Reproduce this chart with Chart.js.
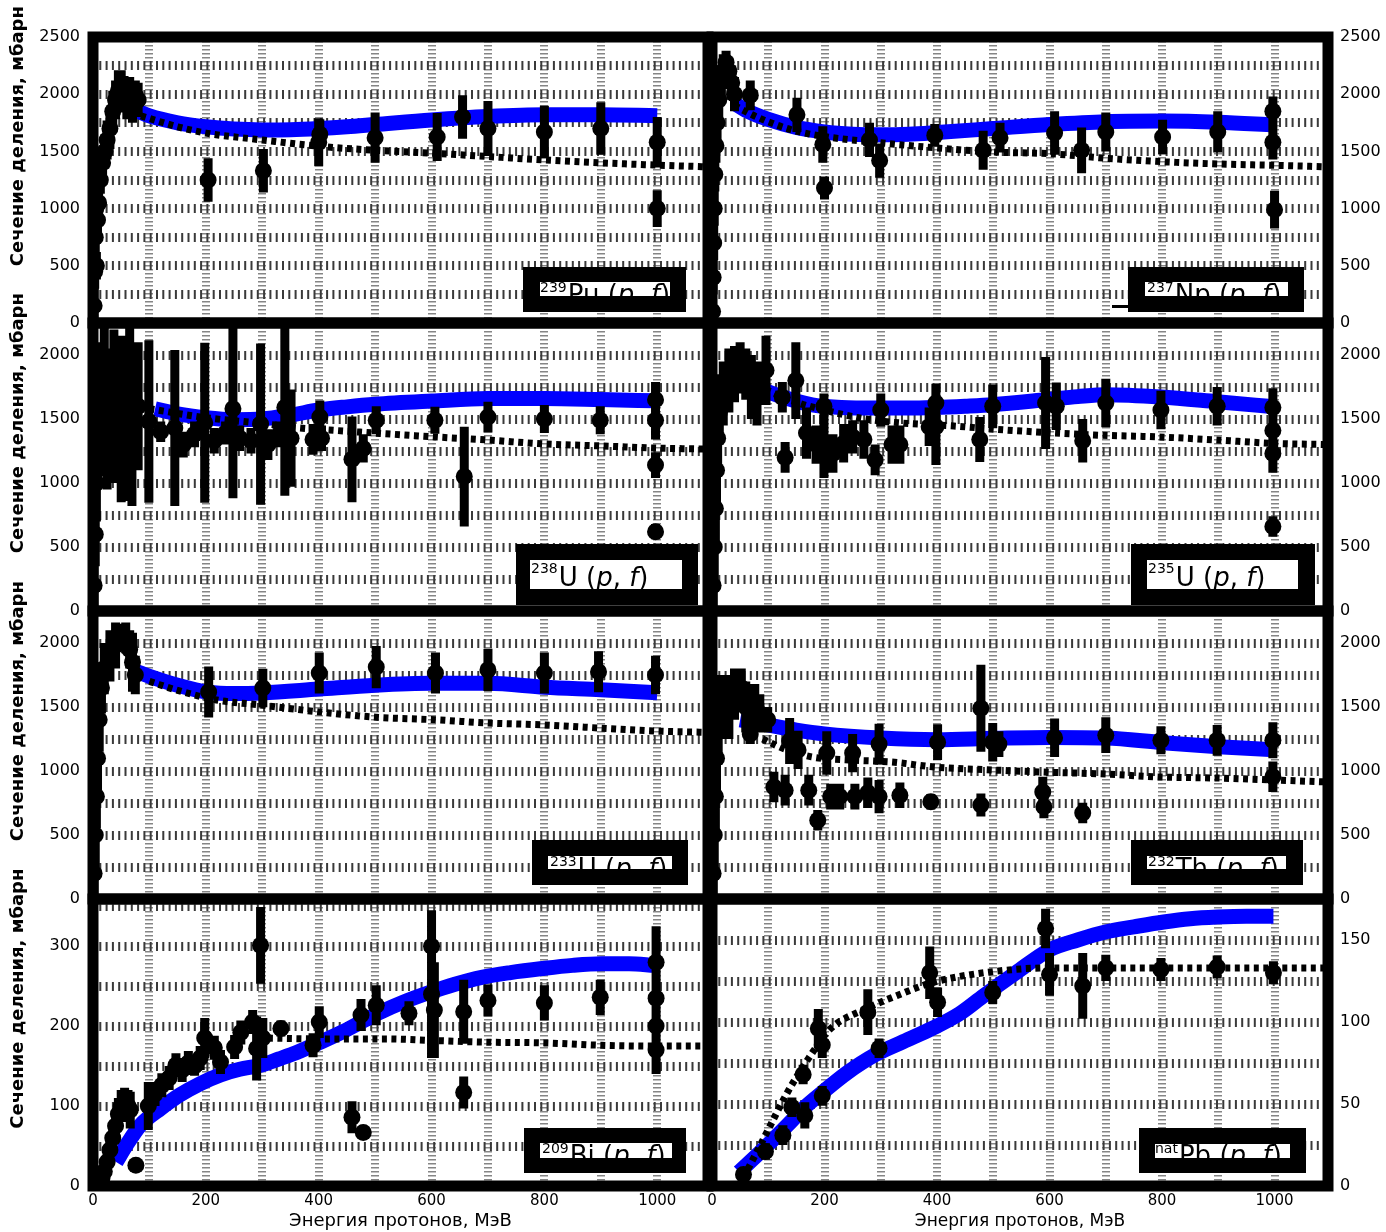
<!DOCTYPE html>
<html lang="ru">
<head>
<meta charset="utf-8">
<title>Сечение деления</title>
<script src="https://cdn.jsdelivr.net/npm/chart.js@4.4.1/dist/chart.umd.min.js"></script>
<style>
  html, body { margin: 0; padding: 0; background: #fff; }
  #sheet { position: relative; width: 1386px; height: 1232px; overflow: hidden; background: #fff; }
  #sheet canvas { position: absolute; left: 0; top: 0; }
</style>
</head>
<body>
<div id="sheet"></div>
<script>
// Tick labels: proton energy (MeV) and fission cross-section (mb)
const energyTicks = [0, 200, 400, 600, 800, 1000];
const energyGrid = [0, 100, 200, 300, 400, 500, 600, 700, 800, 900, 1000];
const sigmaTicksActinide = [0, 500, 1000, 1500, 2000, 2500];
const sigmaTicksBi = [0, 100, 200, 300];
const sigmaTicksPb = [0, 50, 100, 150];

// Experimental points: [E, sigma, error]
const pu239Points = [[2,150,150],[3,450,150],[4,750,150],[5,1000,130],[6,500,120],[8,900,150],[10,1050,150],[13,1250,120],[17,1400,130],[21,1500,150],[25,1600,170],[30,1700,180],[35,1850,180],[40,1950,170],[45,2030,180],[50,2060,150],[55,2000,160],[60,1950,170],[65,2000,150],[70,1920,170],[75,1990,130],[80,1950,150],
  [204,1250,190],[302,1330,190],[400,1580,210],[402,1650,130],[500,1620,220],[610,1625,210],[655,1800,190],[700,1700,240],[800,1670,230],[900,1700,230],[1000,1580,220],[1000,1000,160]];
const np237Points = [[1,100,150],[2,400,150],[3,700,150],[4,1000,150],[5,1300,150],[7,1550,150],[9,1750,150],[12,1950,150],[16,2100,150],[20,2200,150],[25,2280,100],[30,2200,120],[35,2100,150],[40,2000,150],
  [68,1990,130],[151,1820,150],[197,1560,160],[200,1180,100],[280,1600,150],[298,1420,150],[396,1640,100],[482,1510,170],[512,1620,130],[609,1660,190],[657,1510,200],[700,1670,170],[801,1626,150],[899,1670,180],[997,1580,150],[997,1850,130],[1000,990,165]];
const u238Points = [[2,200,200],[4,600,250],[6,1000,300],[8,1300,350],[11,1500,400],[15,1600,500],[20,1650,600],
  [25,1500,550],[37,1600,600],[50,1500,650],[62,1700,400],[65,1570,710],[69,1450,630],[80,1600,500],
  [99,1480,635],[120,1400,80],[145,1430,610],[160,1300,100],[180,1380,100],[198,1470,625],[215,1330,100],[235,1390,90],[248,1580,700],[260,1350,100],[280,1330,100],[297,1460,630],[310,1300,120],[330,1380,100],[340,1590,690],[351,1350,380],[390,1340,120],[402,1515,130],[405,1350,100],[459,1185,335],[479,1270,110],[502,1490,110],[606,1490,105],[658,1050,390],[700,1515,120],[800,1500,110],[899,1490,110],[997,1650,140],[997,1490,150],[997,1140,100],[997,620,60]];
const u235Points = [[2,200,200],[4,500,250],[6,800,300],[8,1100,300],[10,1350,300],[13,1550,250],[16,1650,200],
  [20,1700,250],[30,1800,250],[40,1850,220],[50,1900,200],[60,1850,200],[70,1750,250],[80,1700,250],
  [96,1880,270],[125,1670,120],[130,1200,120],[149,1800,300],[168,1390,200],[185,1300,150],[199,1600,100],[199,1280,240],[215,1230,150],[234,1310,150],[250,1360,130],[270,1340,150],[290,1180,120],[300,1570,130],[320,1300,150],[334,1300,150],[386,1440,150],[398,1625,150],[398,1440,300],[476,1340,175],[499,1600,170],[593,1625,360],[612,1600,185],[659,1330,170],[700,1625,190],[798,1570,150],[898,1600,150],[997,1590,150],[997,1410,180],[997,1230,150],[997,660,80]];
const u233Points = [[2,200,200],[4,500,250],[6,800,250],[8,1100,250],[11,1400,250],[15,1650,200],[20,1800,200],
  [30,1900,200],[40,1980,180],[50,2050,100],[58,2040,120],[65,1950,150],[70,1850,230],[75,1750,150],
  [205,1617,200],[301,1648,150],[401,1766,160],[502,1812,165],[607,1766,160],[700,1790,165],[800,1766,160],[896,1775,160],[997,1750,150]];
const th232Points = [[2,200,250],[4,500,300],[6,800,300],[8,1100,300],[11,1350,300],[14,1500,250],
  [20,1550,200],[30,1500,250],[40,1600,200],[52,1650,150],[60,1500,200],[68,1290,80],[76,1500,180],[85,1450,150],
  [99,1400,100],[110,875,120],[130,850,120],[138,1235,180],[153,1165,150],[172,850,120],[188,615,80],[204,1140,170],[211,800,100],[227,800,100],[250,1140,150],[254,800,100],[277,830,120],[297,1210,160],[297,800,130],[334,810,100],[389,760,60],[401,1225,140],[478,1490,340],[478,735,90],[499,1225,150],[510,1210,100],[588,835,120],[590,720,90],[609,1260,150],[659,672,80],[700,1280,140],[798,1240,110],[898,1240,120],[997,1240,140],[997,955,120]];
const bi209Points = [[8,2,2],[12,5,3],[16,10,5],[20,18,8],[25,30,10],[30,45,12],[35,60,15],[40,75,18],[45,90,20],[50,100,20],[56,105,18],[62,100,20],[66,95,23],[76,26,5],
  [98,100,30],[110,115,15],[122,126,15],[135,135,15],[147,151,15],[158,145,15],[169,154,15],[180,150,12],[190,160,15],[198,185,25],[215,173,15],[226,155,15],[251,174,15],[262,192,15],[283,205,15],[290,172,40],[297,301,48],[301,185,25],[333,197,10],[390,176,15],[401,205,20],[459,86,20],[479,67,5],[475,214,20],[502,226,25],[560,216,15],[600,300,45],[600,240,80],[605,220,60],[657,218,40],[657,117,20],[700,232,20],[800,229,22],[899,236,22],[998,280,45],[998,235,35],[998,200,35],[998,170,30]];
const pbNatPoints = [[56,7,3],[95,21,5],[126,31,6],[142,48,6],[162,68,6],[165,43,8],[189,96,12],[196,86,8],[196,55,6],[277,106,14],[297,84,6],[387,130,16],[401,112,9],[499,118,7],[593,157,12],[600,129,13],[659,122,20],[700,133,8],[798,132,7],[898,133.5,7],[998,130,7]];

// Calculated excitation functions: solid (blue) and dotted curves, [E, sigma]
const pu239Solid = [[80,1850],[100,1810],[150,1750],[200,1715],[250,1695],[300,1688],[350,1690],[400,1700],[450,1715],[500,1735],[600,1775],[700,1805],[800,1820],[900,1820],[1000,1812]];
const pu239Dotted = [[85,1810],[150,1715],[200,1660],[300,1600],[400,1545],[500,1510],[600,1485],[700,1455],[800,1425],[900,1400],[1000,1380],[1090,1365]];
const np237Solid = [[40,1920],[60,1860],[100,1780],[150,1710],[200,1670],[250,1650],[300,1645],[350,1650],[400,1665],[500,1700],[600,1735],[700,1760],[800,1765],[900,1755],[1000,1730]];
const np237Dotted = [[40,1900],[80,1800],[140,1690],[200,1630],[300,1575],[400,1530],[500,1495],[600,1480],[700,1440],[800,1410],[900,1390],[1000,1378],[1095,1365]];
const u238Solid = [[110,1580],[150,1540],[200,1510],[250,1495],[300,1500],[350,1530],[400,1570],[450,1595],[500,1615],[600,1640],[700,1660],[800,1660],[900,1652],[1000,1642]];
const u238Dotted = [[100,1580],[200,1510],[300,1465],[365,1430],[418,1414],[500,1390],[606,1360],[700,1336],[800,1305],[899,1290],[997,1273],[1090,1265]];
const u235Solid = [[80,1750],[120,1680],[178,1610],[230,1590],[290,1585],[350,1585],[398,1590],[450,1600],[499,1612],[593,1650],[650,1675],[700,1690],[798,1672],[898,1635],[1000,1595]];
const u235Dotted = [[80,1760],[150,1630],[200,1570],[260,1510],[320,1475],[430,1445],[522,1414],[679,1375],[794,1360],[897,1336],[997,1310],[1095,1300]];
const u233Solid = [[69,1790],[100,1740],[150,1670],[205,1615],[250,1605],[300,1610],[400,1640],[500,1670],[600,1685],[700,1685],[800,1655],[900,1635],[1000,1612]];
const u233Dotted = [[100,1700],[150,1630],[219,1555],[298,1515],[404,1460],[502,1420],[607,1400],[700,1375],[800,1360],[896,1336],[997,1312],[1090,1302]];
const th232Solid = [[50,1400],[87,1370],[150,1320],[200,1290],[300,1258],[400,1245],[500,1255],[600,1262],[700,1257],[800,1222],[900,1190],[1000,1165]];
const th232Dotted = [[90,1250],[130,1170],[177,1110],[250,1085],[320,1070],[398,1030],[499,1008],[600,990],[700,976],[798,953],[898,945],[997,930],[1095,914]];
const bi209Solid = [[41,30],[60,52],[84,76],[120,97],[154,114],[190,128],[226,139],[260,146],[297,151],[330,159],[361,167],[400,179],[440,192],[475,205],[511,218],[550,230],[596,242],[640,252],[689,261],[740,267],[796,272],[850,276],[902,278],[950,278],[995,276]];
const bi209Dotted = [[310,185],[404,184],[518,184],[603,182],[689,180],[800,179],[902,176],[997,175],[1090,175]];
const pbNatSolid = [[48,8.5],[90,22],[134,37],[165,48],[196,57],[240,69],[290,80],[340,88],[391,96],[440,105],[483,116],[540,130],[600,144],[650,150],[701,155],[750,158],[803,161],[850,163],[898,164],[950,164.5],[998,164.5]];
const pbNatDotted = [[56,5],[95,31],[134,57],[172,78],[211,96],[273,108],[328,116],[391,124],[483,130],[600,133],[763,133],[900,133],[1095,133]];

// Page layout
const W = 1386, H = 1232;
const rowTop = [37, 323, 611, 899];
const rowBottom = [323, 611, 899, 1186];
const colLeft = [93, 712];
const colRight = [708, 1328];
const colMaxE = [1090, 1095];
const yTitle = ' '.repeat(14) + 'Сечение деления, мбарн';

Chart.defaults.font.family = '"DejaVu Sans"';

// Thick frame round each plot area plus the reaction label box
const framePlugin = {
  id: 'panelFrame',
  afterDraw(chart, args, opts) {
    const { ctx, chartArea: a } = chart;
    ctx.save();
    ctx.strokeStyle = '#000';
    ctx.lineWidth = 11;
    ctx.strokeRect(a.left, a.top, a.right - a.left, a.bottom - a.top);
    const t = opts.tag;
    if (t) {
      const R = a.right, B = a.bottom;
      ctx.fillStyle = '#000';
      ctx.fillRect(R + t.box[0], B + t.box[1], t.box[2] - t.box[0], t.box[3] - t.box[1]);
      if (t.stub) ctx.fillRect(R + t.stub[0], B + t.stub[1], t.stub[2], t.stub[3]);
      ctx.fillStyle = '#fff';
      ctx.fillRect(R + t.win[0], B + t.win[1], t.win[2] - t.win[0], t.win[3] - t.win[1]);
      ctx.fillStyle = '#000';
      ctx.textAlign = 'left';
      ctx.textBaseline = 'alphabetic';
      let x = R + t.x;
      ctx.font = '14px "DejaVu Sans"';
      ctx.fillText(t.mass, x, B + t.supY);
      x += ctx.measureText(t.mass).width + 1;
      const runs = [[t.sym + ' (', ''], ['p', 'italic '], [', ', ''], ['f', 'italic '], [')', '']];
      for (const [s, style] of runs) {
        ctx.font = style + '26px "DejaVu Sans"';
        ctx.fillText(s, x, B + t.mainY);
        x += ctx.measureText(s).width;
      }
    }
    ctx.restore();
  }
};
Chart.register(framePlugin);

function errorBars(points) {
  const out = [];
  for (const [e, s, d] of points) {
    out.push({ x: e, y: s - d }, { x: e, y: s + d }, { x: e, y: null });
  }
  return out;
}
const xy = rows => rows.map(r => ({ x: r[0], y: r[1] }));

const panels = [
  { row: 0, col: 0, yMax: 2500, yStep: 250, yTicks: sigmaTicksActinide, points: pu239Points, solid: pu239Solid, dotted: pu239Dotted,
    tag: { mass: '239', sym: 'Pu', box: [-185, -56, -22, -11], win: [-168, -41, -38, -27], x: -168, supY: -31, mainY: -20 } },
  { row: 0, col: 1, yMax: 2500, yStep: 250, yTicks: sigmaTicksActinide, points: np237Points, solid: np237Solid, dotted: np237Dotted,
    tag: { mass: '237', sym: 'Np', box: [-200, -56, -24, -11], win: [-183, -41, -40, -27], x: -181, supY: -31, mainY: -20, stub: [-216, -18, 18, 3] } },
  { row: 1, col: 0, yMax: 2250, yStep: 250, yTicks: sigmaTicksActinide, points: u238Points, solid: u238Solid, dotted: u238Dotted,
    tag: { mass: '238', sym: 'U', box: [-192, -67, -10, -6], win: [-178, -51, -26, -22], x: -177, supY: -38, mainY: -25 } },
  { row: 1, col: 1, yMax: 2250, yStep: 250, yTicks: sigmaTicksActinide, points: u235Points, solid: u235Solid, dotted: u235Dotted,
    tag: { mass: '235', sym: 'U', box: [-197, -67, -13, -6], win: [-181, -51, -30, -22], x: -180, supY: -38, mainY: -25 } },
  { row: 2, col: 0, yMax: 2250, yStep: 250, yTicks: sigmaTicksActinide, points: u233Points, solid: u233Solid, dotted: u233Dotted,
    tag: { mass: '233', sym: 'U', box: [-176, -59, -20, -14], win: [-160, -43, -36, -30], x: -158, supY: -33, mainY: -22 } },
  { row: 2, col: 1, yMax: 2250, yStep: 250, yTicks: sigmaTicksActinide, points: th232Points, solid: th232Solid, dotted: th232Dotted,
    tag: { mass: '232', sym: 'Th', box: [-197, -59, -25, -14], win: [-181, -43, -42, -30], x: -180, supY: -33, mainY: -22 } },
  { row: 3, col: 0, yMax: 359, yStep: 50, yTicks: sigmaTicksBi, points: bi209Points, solid: bi209Solid, dotted: bi209Dotted,
    tag: { mass: '209', sym: 'Bi', box: [-184, -58, -22, -13], win: [-168, -43, -36, -28], x: -166, supY: -33, mainY: -22 } },
  { row: 3, col: 1, yMax: 175, yStep: 25, yTicks: sigmaTicksPb, points: pbNatPoints, solid: pbNatSolid, dotted: pbNatDotted,
    tag: { mass: 'nat', sym: 'Pb', box: [-189, -58, -22, -13], win: [-173, -42, -38, -28], x: -173, supY: -33, mainY: -22 } }
];

function makePanel(p) {
  const canvas = document.createElement('canvas');
  canvas.width = W;
  canvas.height = H;
  document.getElementById('sheet').appendChild(canvas);
  const left = p.col === 0;
  const bottomRow = p.row === 3;
  const aL = colLeft[p.col], aR = colRight[p.col], aT = rowTop[p.row], aB = rowBottom[p.row];
  const xH = bottomRow ? H - aB : 0;
  const yW = left ? aL : W - aR;
  const clear = 'rgba(0,0,0,0)';

  new Chart(canvas, {
    type: 'line',
    data: {
      datasets: [
        { data: xy(p.solid), borderColor: '#0000ff', borderWidth: 15, pointRadius: 0, cubicInterpolationMode: 'monotone', order: 3 },
        { data: xy(p.dotted), borderColor: '#000', borderWidth: 7, borderDash: [5, 4.5], pointRadius: 0, cubicInterpolationMode: 'monotone', order: 2 },
        { data: errorBars(p.points), borderColor: '#000', borderWidth: 9, pointRadius: 0, spanGaps: false, tension: 0, borderCapStyle: 'butt', order: 1 },
        { data: xy(p.points), showLine: false, pointRadius: 8.5, pointBackgroundColor: '#000', pointBorderWidth: 0, order: 0 }
      ]
    },
    options: {
      responsive: false,
      animation: false,
      events: [],
      layout: { padding: { left: left ? 0 : aL, right: left ? W - aR : 0, top: aT, bottom: H - aB - xH } },
      plugins: { legend: { display: false }, tooltip: { enabled: false }, panelFrame: { tag: p.tag } },
      scales: {
        x: {
          type: 'linear', min: 0, max: colMaxE[p.col],
          afterBuildTicks: s => { s.ticks = energyGrid.map(v => ({ value: v })); },
          afterFit: s => { s.height = xH; },
          border: { display: false, dash: [1.5, 2.5] },
          grid: { drawTicks: false, lineWidth: 8,
                  color: c => (c.tick && c.tick.value > 0) ? '#858585' : clear },
          ticks: { display: bottomRow, autoSkip: false, maxRotation: 0,
                   padding: 6, color: '#000', font: { size: 15 },
                   callback: v => energyTicks.includes(v) ? String(v) : '' },
          title: { display: bottomRow, text: 'Энергия протонов, МэВ', color: '#000',
                   font: { size: left ? 18 : 17 }, padding: { top: 0, bottom: 0 } }
        },
        y: {
          type: 'linear', position: left ? 'left' : 'right', min: 0, max: p.yMax,
          afterFit: s => { s.width = yW; },
          border: { display: false, dash: [2, 4.3] },
          grid: { drawTicks: false, lineWidth: 9,
                  color: c => (c.tick && c.tick.value > 0 && c.tick.value < p.yMax) ? '#3a3a3a' : clear },
          ticks: { stepSize: p.yStep, includeBounds: false, autoSkip: false, padding: left ? 13 : 12,
                   color: '#000', font: { size: 16 },
                   callback: v => p.yTicks.includes(v) ? String(v) : '' },
          title: { display: left, text: yTitle, color: '#000',
                   font: { size: 18, weight: 'bold' }, padding: { top: 8, bottom: 0 } }
        }
      }
    }
  });
}

panels.forEach(makePanel);
</script>
</body>
</html>
